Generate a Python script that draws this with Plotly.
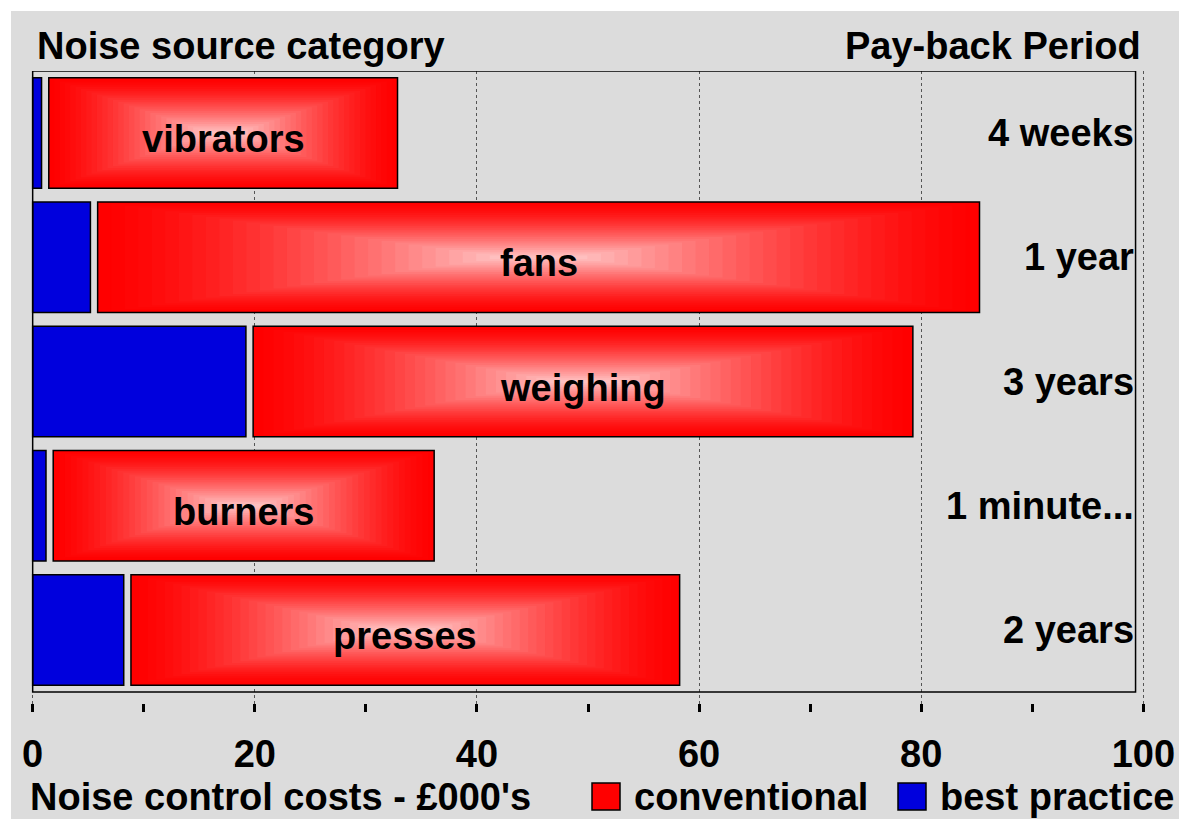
import plotly.graph_objects as go

# data (£000's)
categories = ['vibrators', 'fans', 'weighing', 'burners', 'presses']
best_practice = [0.8, 5.2, 19.2, 1.2, 8.2]
conventional = [31.4, 79.4, 59.4, 34.3, 49.4]
payback = ['4 weeks', '1 year', '3 years', '1 minute...', '2 years']

# the page puts the figure 8px in from the top-left corner
OFF = 8
W, H = 1187 - OFF, 819 - OFF
ML, MR, MT, MB = 23, 42, 71 - OFF, 819 - 712
BG = '#dcdcdc'
RED = '#ff0000'
BLUE = '#0000dd'
FONT = dict(family='Liberation Sans, Arial, sans-serif', size=38, color='black', weight='bold')
BAR_W = 0.89
GAP = 0.65          # visual gap between the blue and red bar
N_LEVELS = 30       # steps of the rectangular gradient on red bars
FRAME_RIGHT = 99.3


def px_x(p):
    # page pixel -> paper coordinate
    return (p - OFF - ML) / (W - ML - MR)


def px_y(p):
    return (H - MB - (p - OFF)) / (H - MT - MB)


red_start = [b + GAP for b in best_practice]

fig = go.Figure()

fig.add_trace(go.Bar(
    y=categories, x=best_practice, orientation='h', width=BAR_W,
    marker=dict(color=BLUE, line=dict(color='black', width=1.5)),
    name='best practice', hoverinfo='skip',
))

# rectangular gradient: concentric bars from red at the edge to pale pink in the middle
for i in range(N_LEVELS):
    t = i / N_LEVELS
    g = round(200 * t ** 1.4)
    inset = [0.92 * c / 2 * t for c in conventional]
    fig.add_trace(go.Bar(
        y=categories,
        x=[c - 2 * d for c, d in zip(conventional, inset)],
        base=[s + d for s, d in zip(red_start, inset)],
        orientation='h', width=BAR_W * (1 - t),
        marker=dict(color=f'rgb(255,{g},{g})', line=dict(width=0)),
        showlegend=False, hoverinfo='skip',
    ))

fig.add_trace(go.Bar(
    y=categories, x=conventional, base=red_start, orientation='h', width=BAR_W,
    marker=dict(color='rgba(0,0,0,0)', line=dict(color='black', width=1.5)),
    name='conventional', hoverinfo='skip',
))

# category names sit a little below the middle of the red bars
for cat, s, c in zip(categories, red_start, conventional):
    fig.add_annotation(x=s + c / 2, y=cat, xref='x', yref='y', text=cat, yshift=-6,
                       showarrow=False, xanchor='center', yanchor='middle', font=FONT)

for cat, label in zip(categories, payback):
    fig.add_annotation(x=FRAME_RIGHT, y=cat, xref='x', yref='y', text=label,
                       showarrow=False, xanchor='right', yanchor='middle', font=FONT)

# headings, axis title and hand-drawn legend
fig.add_annotation(x=px_x(35), y=px_y(46), xref='paper', yref='paper', text='Noise source category',
                   showarrow=False, xanchor='left', yanchor='middle', font=FONT)
fig.add_annotation(x=px_x(1143), y=px_y(46), xref='paper', yref='paper', text='Pay-back Period',
                   showarrow=False, xanchor='right', yanchor='middle', font=FONT)
fig.add_annotation(x=px_x(28), y=px_y(797), xref='paper', yref='paper', text="Noise control costs - £000's",
                   showarrow=False, xanchor='left', yanchor='middle', font=FONT)
for x0, color, label in [(592, RED, 'conventional'), (898, BLUE, 'best practice')]:
    fig.add_shape(type='rect', xref='paper', yref='paper',
                  x0=px_x(x0), x1=px_x(x0 + 28), y0=px_y(783), y1=px_y(810),
                  fillcolor=color, line=dict(color='black', width=1.5))
    fig.add_annotation(x=px_x(x0 + 40), y=px_y(797), xref='paper', yref='paper', text=label,
                       showarrow=False, xanchor='left', yanchor='middle', font=FONT)

# thin white strip at the top and left edge of the picture
fig.add_shape(type='rect', xref='paper', yref='paper', layer='below',
              x0=px_x(OFF), x1=px_x(11), y0=px_y(OFF), y1=px_y(819), fillcolor='white', line_width=0)
fig.add_shape(type='rect', xref='paper', yref='paper', layer='below',
              x0=px_x(OFF), x1=px_x(1187), y0=px_y(OFF), y1=px_y(11), fillcolor='white', line_width=0)

# plot frame
fig.add_shape(type='rect', xref='x', yref='y', x0=0, x1=FRAME_RIGHT, y0=-0.5, y1=4.5,
              line=dict(color='black', width=1.5), layer='above')

fig.update_layout(
    width=W, height=H,
    margin=dict(l=ML, r=MR, t=MT, b=MB),
    paper_bgcolor=BG, plot_bgcolor=BG,
    barmode='overlay', showlegend=False,
    font=FONT,
    xaxis=dict(
        # a touch of padding so the 0 and 100 ticks/gridlines are kept
        range=[-0.15, 100.15], dtick=20, tick0=0,
        showgrid=True, gridcolor='#555555', griddash='dot', gridwidth=1,
        zeroline=False, showline=False,
        ticks='inside', ticklen=8, tickwidth=3, tickcolor='black',
        minor=dict(dtick=10, ticks='inside', ticklen=8, tickwidth=3, tickcolor='black', showgrid=False),
        tickfont=FONT, ticklabelstandoff=16,
    ),
    yaxis=dict(
        categoryorder='array', categoryarray=categories,
        range=[4.661, -0.5], showticklabels=False, showgrid=False,
        zeroline=False, ticks='',
    ),
)

fig.write_html('out.html')
